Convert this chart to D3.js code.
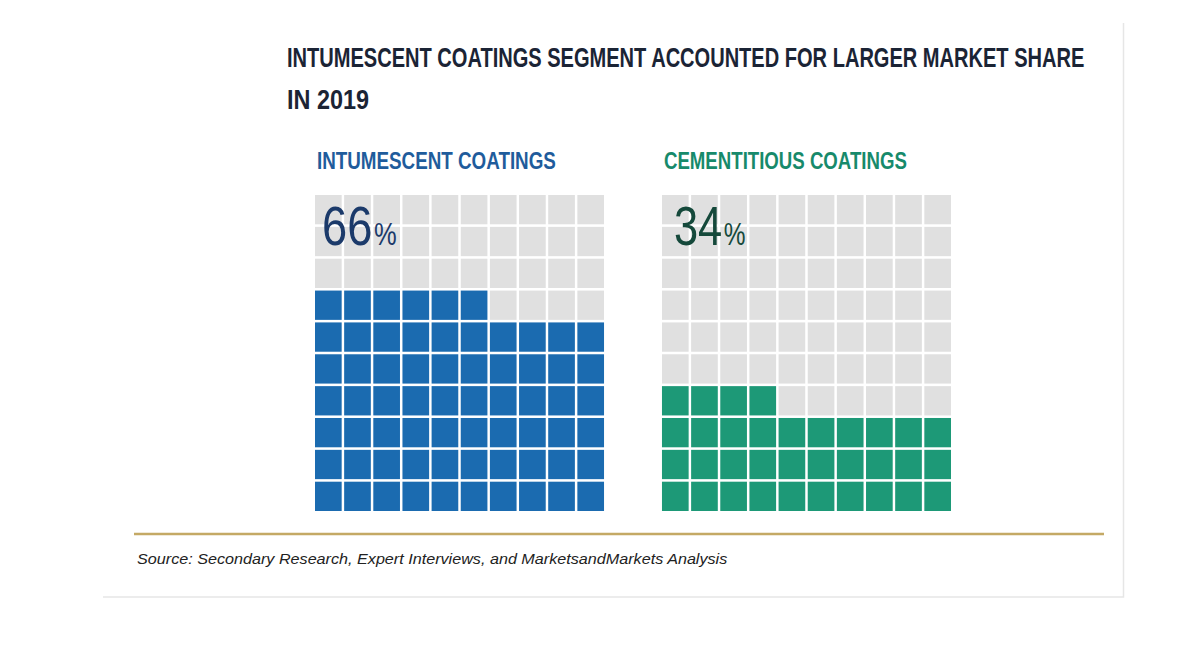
<!DOCTYPE html>
<html>
<head>
<meta charset="utf-8">
<script src="https://cdn.jsdelivr.net/npm/d3@7"></script>
<style>
  html, body { margin: 0; padding: 0; background: #ffffff; }
  svg { display: block; }
</style>
</head>
<body>
<svg id="chart" width="1200" height="650"></svg>
<script>
// ---- data ----
const titleLines = ["INTUMESCENT COATINGS SEGMENT ACCOUNTED FOR LARGER MARKET SHARE", "IN 2019"];
const categories = ["INTUMESCENT COATINGS", "CEMENTITIOUS COATINGS"];
const shares = [66, 34];
const fillColors = ["#1b6bb0", "#1d9977"];
const labelColors = ["#1f5c9c", "#178a6b"];
const numberColors = ["#1b3a6a", "#15493b"];
const sourceText = "Source: Secondary Research, Expert Interviews, and MarketsandMarkets Analysis";
const gridSize = 10;

// ---- layout ----
const svg = d3.select("#chart");
const font = "'Liberation Sans', Arial, sans-serif";

// helper: draw a text horizontally condensed to a target width
function condensed(x, y, width, str, attrs) {
  const t = svg.append("text").attr("font-family", font);
  Object.entries(attrs).forEach(([k, v]) => t.attr(k, v));
  t.text(str);
  const natural = t.node().getComputedTextLength();
  const s = natural > 0 ? width / natural : 1;
  t.attr("transform", `translate(${x},${y}) scale(${s},1)`);
  return t;
}

// card border (right + bottom)
svg.append("path")
  .attr("d", "M1123.5,23 V597 H103")
  .attr("fill", "none")
  .attr("stroke", "#e6e6e6")
  .attr("stroke-width", 1.5);

// title
const titleWidths = [798, 82];
titleLines.forEach((line, i) => {
  condensed(287, 67 + i * 42, titleWidths[i], line,
    { "font-weight": "bold", "font-size": 27, "fill": "#1b2435" });
});

// panel scale
const panel = d3.scaleBand().domain(categories).range([315, 951]).paddingInner(0.167);
const gridTop = 195, gridBottom = 511;
const col = d3.scaleBand().domain(d3.range(gridSize)).range([0, panel.bandwidth()]).paddingInner(0.085);
const row = d3.scaleBand().domain(d3.range(gridSize)).range([gridBottom - gridTop, 0]).paddingInner(0.08);

const labelWidths = [239, 243];
const shareWidths = [73, 70];

categories.forEach((cat, ci) => {
  const g = svg.append("g").attr("transform", `translate(${panel(cat)},${gridTop})`);
  const cells = d3.range(gridSize * gridSize).map(i => ({
    i, r: Math.floor(i / gridSize), c: i % gridSize, filled: i < shares[ci]
  }));
  g.selectAll("rect")
    .data(cells)
    .join("rect")
    .attr("x", d => col(d.c))
    .attr("y", d => row(d.r))
    .attr("width", col.bandwidth())
    .attr("height", row.bandwidth())
    .attr("fill", d => d.filled ? fillColors[ci] : "#e0e0e0");

  // category label
  condensed(panel(cat) + 2, 169, labelWidths[ci], cat,
    { "font-weight": "bold", "font-size": 23, "fill": labelColors[ci] });

  // share number + percent sign in one text element
  const nx = panel(cat) + (ci === 0 ? 7 : 12);
  const t = svg.append("text")
    .attr("font-family", font)
    .attr("fill", numberColors[ci]);
  t.append("tspan").attr("font-size", 55).text(shares[ci]);
  t.append("tspan").attr("font-size", 31).attr("dx", 2).text("%");
  const natural = t.node().getComputedTextLength();
  t.attr("transform", `translate(${nx},245) scale(${shareWidths[ci] / natural},1)`);
});

// gold rule
svg.append("line")
  .attr("x1", 134).attr("x2", 1104)
  .attr("y1", 534).attr("y2", 534)
  .attr("stroke", "#c4a965")
  .attr("stroke-width", 2.5);

// source
condensed(137, 564, 591, sourceText,
  { "font-style": "italic", "font-size": 14, "fill": "#222" });
</script>
</body>
</html>
